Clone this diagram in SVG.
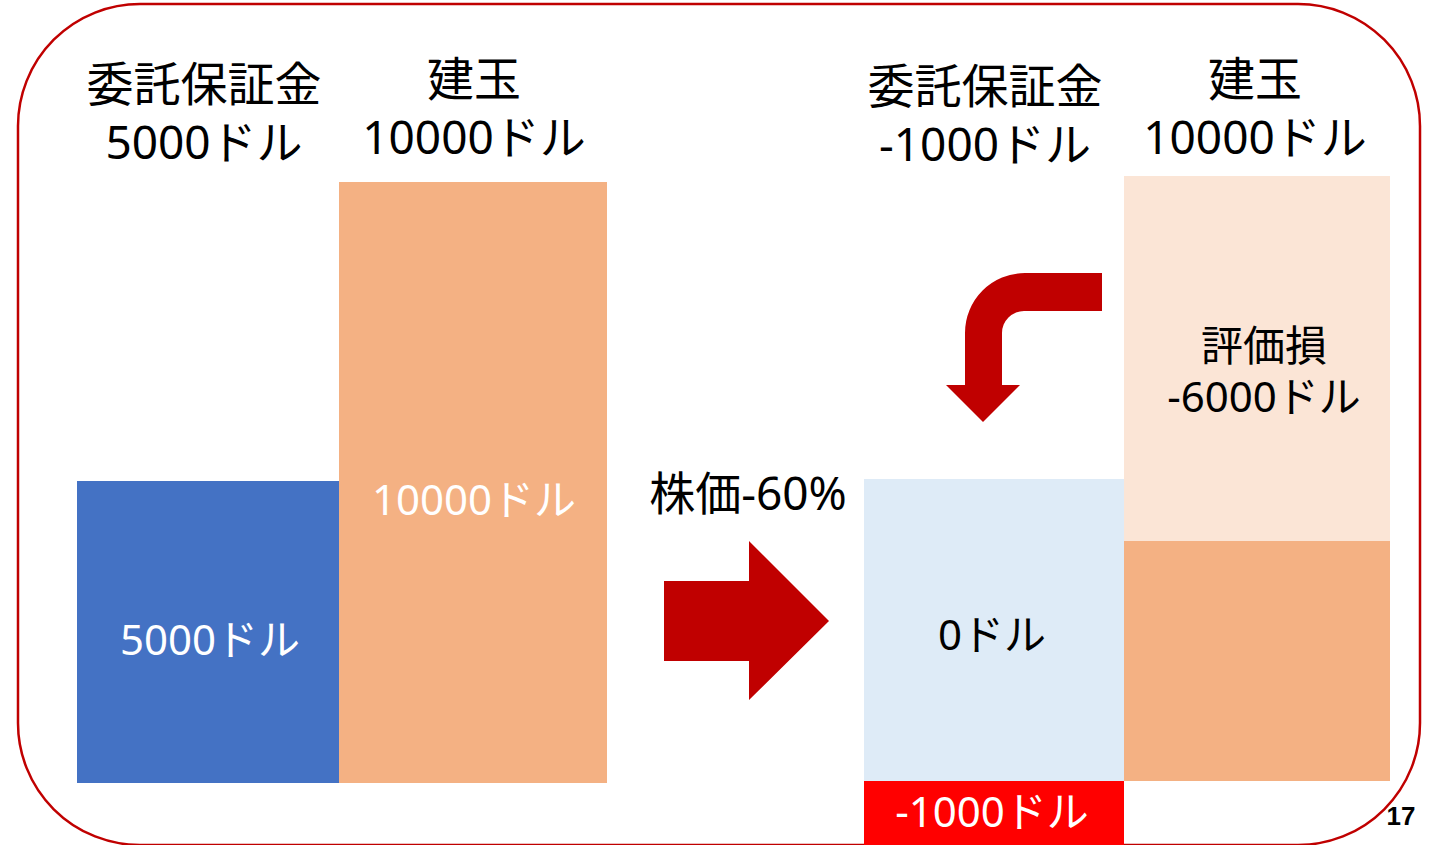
<svg xmlns="http://www.w3.org/2000/svg" width="1434" height="845" viewBox="0 0 1434 845">
<style>
.t{font-family:"Noto Sans","Noto Sans CJK JP",sans-serif;text-anchor:middle;fill:#000}
.h{font-size:46px}
.m{font-size:42px}
.w{fill:#fff}
.arrow{fill:#C00000}
</style>
<rect width="1434" height="845" fill="#fff"/>
<rect id="frame" x="18" y="4" width="1402" height="841" rx="122" ry="122" fill="none" stroke="#C00000" stroke-width="2.5"/>
<g id="left-margin">
<rect x="77" y="481" width="262" height="302" fill="#4472C4"/>
<text class="t m w" x="210" y="655">5000ドル</text>
</g>
<g id="left-position">
<rect x="339" y="182" width="268" height="601" fill="#F4B183"/>
<text class="t m w" x="474" y="515">10000ドル</text>
</g>
<g id="labels-left">
<text class="t h" x="204" y="101" style="font-size:47px">委託保証金</text>
<text class="t h" x="204" y="159">5000ドル</text>
<text class="t h" x="474" y="96" style="font-size:47px">建玉</text>
<text class="t h" x="474" y="154">10000ドル</text>
</g>
<g id="right-margin">
<rect x="864" y="479" width="260" height="302" fill="#DEEBF7"/>
<text class="t m" x="992" y="650">0ドル</text>
</g>
<g id="right-negative">
<rect x="864" y="781" width="260" height="64" fill="#FF0000"/>
<text class="t m w" x="992" y="827">-1000ドル</text>
</g>
<g id="right-loss">
<rect x="1124" y="176" width="266" height="365" fill="#FBE5D6"/>
<text class="t m" x="1264" y="361">評価損</text>
<text class="t m" x="1264" y="412">-6000ドル</text>
</g>
<g id="right-position">
<rect x="1124" y="541" width="266" height="240" fill="#F4B183"/>
</g>
<g id="labels-right">
<text class="t h" x="985" y="103" style="font-size:47px">委託保証金</text>
<text class="t h" x="985" y="161">-1000ドル</text>
<text class="t h" x="1255" y="96" style="font-size:47px">建玉</text>
<text class="t h" x="1255" y="154">10000ドル</text>
</g>
<g id="connectors">
<path class="arrow" d="M664 581 H749 V541 L829 621 L749 700 V661 H664 Z"/>
<path class="arrow" d="M1102 273 V311 H1024 A22 22 0 0 0 1002 333 V385 H1020 L983 422 L946 385 H965 V333 A60 60 0 0 1 1025 273 Z"/>
<text class="t h" x="748" y="510">株価-60%</text>
</g>
<text x="1401" y="825" style="font-family:'Liberation Sans',sans-serif;font-weight:bold;font-size:26px;text-anchor:middle">17</text>
</svg>
